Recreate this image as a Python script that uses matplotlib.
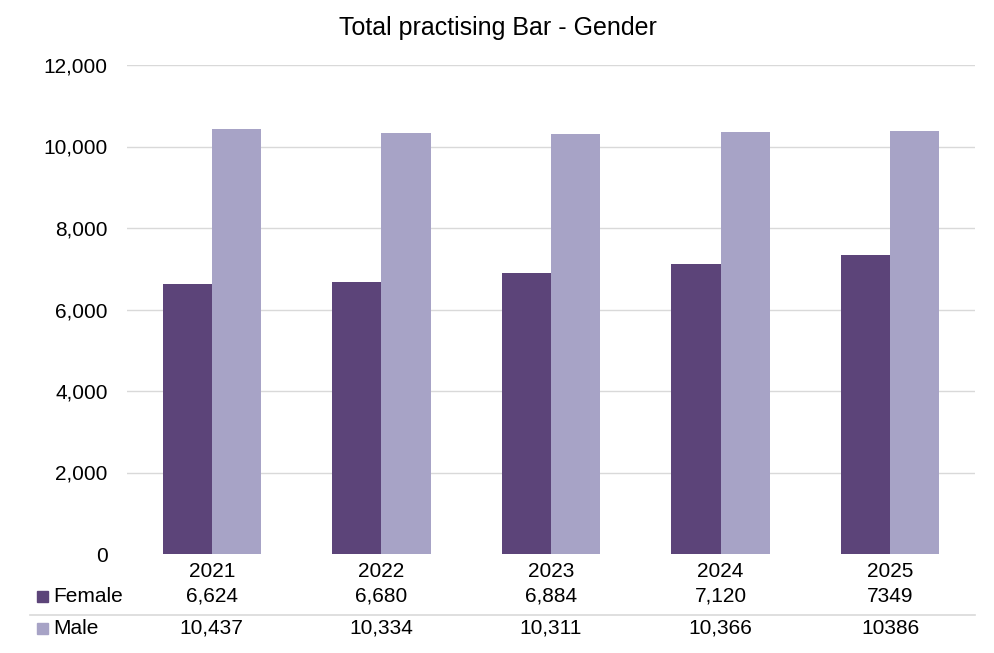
import matplotlib.pyplot as plt
import matplotlib.transforms as mtransforms
from matplotlib.patches import Rectangle
import numpy as np

plt.rcParams['font.family'] = ['Liberation Sans', 'DejaVu Sans']

# data
years = ['2021', '2022', '2023', '2024', '2025']
female = [6624, 6680, 6884, 7120, 7349]
male = [10437, 10334, 10311, 10366, 10386]
female_labels = ['6,624', '6,680', '6,884', '7,120', '7349']
male_labels = ['10,437', '10,334', '10,311', '10,366', '10386']

c_female = '#5C4479'
c_male = '#A7A3C6'

H = 653
fig = plt.figure(figsize=(9.95, 6.53), dpi=100)
ax = fig.add_axes([127 / 995, 1 - 554 / H, (975 - 127) / 995, (554 - 65) / H])

x = np.arange(len(years))
w = 0.29
ax.bar(x - w / 2, female, w, color=c_female, zorder=3)
ax.bar(x + w / 2, male, w, color=c_male, zorder=3)

ax.set_xlim(-0.5, len(years) - 0.5)
ax.set_ylim(0, 12000)
yt = list(range(0, 12001, 2000))
ax.set_yticks(yt)
ax.set_yticklabels([f'{v:,}' for v in yt], fontsize=15)
ax.set_xticks([])
ax.tick_params(length=0, pad=14)
for v in yt[1:]:
    ax.axhline(v, color='#D9D9D9', linewidth=1, zorder=0)
for s in ax.spines.values():
    s.set_visible(False)

fig.text(0.5, 1 - 28.5 / H, 'Total practising Bar - Gender', ha='center', va='center', fontsize=18)

# data table under the chart
tr = mtransforms.blended_transform_factory(ax.transData, fig.transFigure)
y_yr = 1 - 577 / H
y_f = 1 - 602 / H
y_m = 1 - 634 / H
for i in range(len(years)):
    ax.text(x[i], y_yr, years[i], transform=tr, ha='center', va='baseline', fontsize=15, clip_on=False)
    ax.text(x[i], y_f, female_labels[i], transform=tr, ha='center', va='baseline', fontsize=15, clip_on=False)
    ax.text(x[i], y_m, male_labels[i], transform=tr, ha='center', va='baseline', fontsize=15, clip_on=False)

fig.add_artist(plt.Line2D([30 / 995, 975 / 995], [1 - 615 / H] * 2, color='#D9D9D9', linewidth=1.2))
for y, lab, c in [(y_f, 'Female', c_female), (y_m, 'Male', c_male)]:
    fig.add_artist(Rectangle((37 / 995, y), 11 / 995, 11 / H, color=c, transform=fig.transFigure))
    fig.text(53 / 995, y, lab, ha='left', va='baseline', fontsize=15)

fig.savefig('out.png', dpi=100)
